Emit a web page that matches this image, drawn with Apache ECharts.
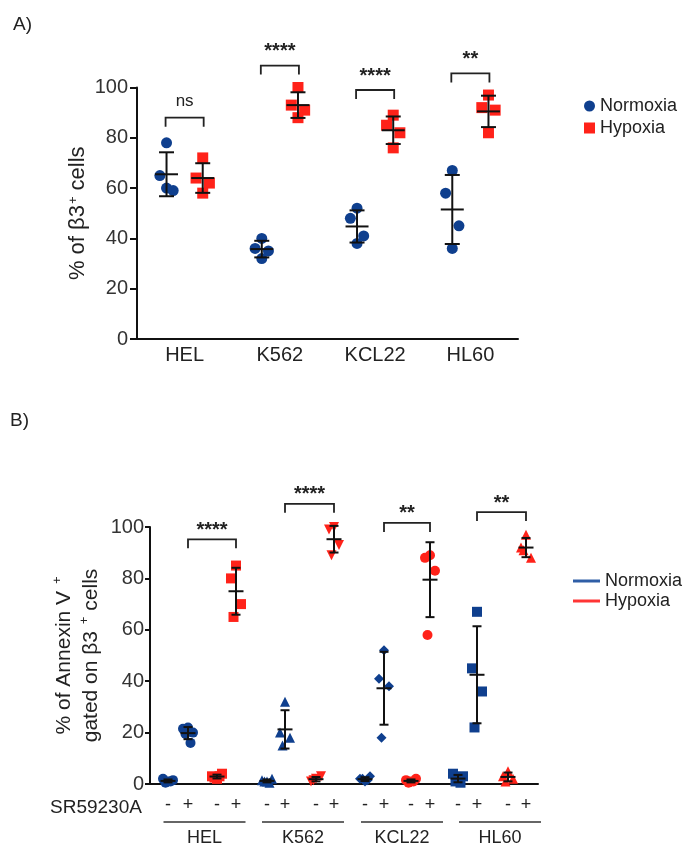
<!DOCTYPE html>
<html><head><meta charset="utf-8">
<script src="https://cdn.jsdelivr.net/npm/echarts@6/dist/echarts.min.js"></script>
<style>html,body{margin:0;padding:0;background:#fff}#c{width:691px;height:858px}</style>
</head><body><div id="c"></div>
<script>
// ---------- data ----------
const cellLines = ['HEL', 'K562', 'KCL22', 'HL60'];
// Panel A: % of beta3+ cells
const aNormoxia = [[78, 65, 59, 60], [40, 36, 35, 32], [52, 48, 41, 38], [67, 58, 45, 36]];
const aHypoxia  = [[72, 64, 62, 58], [100, 93, 91, 88], [89, 85, 82, 76], [97, 92, 91, 82]];
const aSigLabels  = ['ns', '****', '****', '**'];
const aSigHeights = [88, 108.7, 99, 105.6];
// Panel B: % Annexin V+ gated on beta3+ cells  (- / + SR59230A)
const bTickLabels = ['-', '+', '-', '+'];
const bNormoxiaMinus = [[1, 2, 1.5, 0.5, 1], [1, 1.5, 2, 1, 0.5], [1, 2, 3, 2, 1.5], [2, 4, 3, 1, 0.5]];
const bNormoxiaPlus  = [[22, 21.5, 20, 19.5, 16], [32, 20, 18, 15], [52, 41, 38, 18], [67, 45, 36, 22]];
const bHypoxiaMinus  = [[2, 3, 4, 2.5, 3], [2, 1, 3, 1.5], [1, 1.5, 2, 0.5, 1], [5, 3, 2, 1]];
const bHypoxiaPlus   = [[85, 80, 70, 65], [100, 99, 93, 89], [89, 88, 83, 58], [97, 92, 88, 91]];
const bSigLabels  = ['****', '****', '**', '**'];
const bSigHeights = [95.2, 109, 101.6, 105.8];
// slot positions along panel B's x axis (N-, N+, H-, H+ for each cell line)
const bSlots = [[1.8, 3.8, 6.7, 8.6], [11.7, 13.5, 16.6, 18.4], [21.5, 23.4, 26.1, 28.0], [30.8, 32.7, 35.8, 37.6]];
const bGroupCenters = [5.45, 15.3, 25.2, 35.0];

// ---------- styles ----------
const BLUE = '#0f3f8e', RED = '#ff2219', INK = '#222';
const FONT = '"Liberation Sans", Arial, Helvetica, sans-serif';
const jitA = [0, -0.07, 0.07, 0, -0.04, 0.04];
const jitB = [0, -0.5, 0.5, -0.25, 0.25];
const invTri = 'path://M0,0 L10,0 L5,9 Z';
const bSymN = ['circle', 'triangle', 'diamond', 'rect'];
const bSymH = ['rect', invTri, 'circle', 'triangle'];

const mean = a => a.reduce((s, v) => s + v, 0) / a.length;
const sd = a => { const m = mean(a); return Math.sqrt(a.reduce((s, v) => s + (v - m) * (v - m), 0) / (a.length - 1)); };

function errRender(capHalf, meanHalf) {
  return function (params, api) {
    const x = api.value(0), m = api.value(1), s = api.value(2);
    const pm = api.coord([x, m]), pt = api.coord([x, m + s]), pb = api.coord([x, m - s]);
    const st = { stroke: '#111', lineWidth: 2 };
    return { type: 'group', children: [
      { type: 'line', shape: { x1: pm[0], y1: pt[1], x2: pm[0], y2: pb[1] }, style: st },
      { type: 'line', shape: { x1: pm[0] - meanHalf, y1: pm[1], x2: pm[0] + meanHalf, y2: pm[1] }, style: st },
      { type: 'line', shape: { x1: pm[0] - capHalf, y1: pt[1], x2: pm[0] + capHalf, y2: pt[1] }, style: st },
      { type: 'line', shape: { x1: pm[0] - capHalf, y1: pb[1], x2: pm[0] + capHalf, y2: pb[1] }, style: st }
    ] };
  };
}
function bracketRender(labels, gapStars, gapText) {
  return function (params, api) {
    const p1 = api.coord([api.value(0), api.value(2)]);
    const p2 = api.coord([api.value(1), api.value(2)]);
    const lab = labels[params.dataIndex];
    const stars = lab.indexOf('*') >= 0;
    const drop = 9;
    return { type: 'group', children: [
      { type: 'polyline', shape: { points: [[p1[0], p1[1] + drop], [p1[0], p1[1]], [p2[0], p2[1]], [p2[0], p2[1] + drop]] },
        style: { stroke: '#222', lineWidth: 1.8, fill: null } },
      { type: 'text', style: { text: lab, x: (p1[0] + p2[0]) / 2, y: p1[1] - (stars ? gapStars : gapText),
        align: 'center', verticalAlign: 'middle', fill: '#222',
        font: (stars ? 'bold 20px ' : '17px ') + FONT } }
    ] };
  };
}

// ---------- series ----------
const series = [];
// Panel A scatter
series.push({ name: 'Normoxia', type: 'scatter', xAxisIndex: 1, yAxisIndex: 0, symbol: 'circle', symbolSize: 11,
  itemStyle: { color: BLUE, opacity: 1 }, z: 3,
  data: aNormoxia.flatMap((vals, i) => vals.map((v, j) => [i - 0.19 + jitA[j], v])) });
series.push({ name: 'Hypoxia', type: 'scatter', xAxisIndex: 1, yAxisIndex: 0, symbol: 'rect', symbolSize: 11,
  itemStyle: { color: RED, opacity: 1 }, z: 3,
  data: aHypoxia.flatMap((vals, i) => vals.map((v, j) => [i + 0.19 + jitA[j], v])) });
series.push({ type: 'custom', xAxisIndex: 1, yAxisIndex: 0, z: 5, clip: false, renderItem: errRender(7.5, 11.5),
  data: aNormoxia.map((v, i) => [i - 0.19, mean(v), sd(v)]).concat(aHypoxia.map((v, i) => [i + 0.19, mean(v), sd(v)])) });
series.push({ type: 'custom', xAxisIndex: 1, yAxisIndex: 0, z: 5, clip: false, renderItem: bracketRender(aSigLabels, 14, 16),
  data: aSigHeights.map((h, i) => [i - 0.2, i + 0.2, h]) });

// Panel B scatter
cellLines.forEach((cl, i) => {
  const s = bSlots[i];
  series.push({ name: 'Normoxia', type: 'scatter', xAxisIndex: 2, yAxisIndex: 1, symbol: bSymN[i], symbolSize: 10,
    itemStyle: { color: BLUE, opacity: 1 }, z: 3,
    data: bNormoxiaMinus[i].map((v, j) => [s[0] + jitB[j], v]).concat(bNormoxiaPlus[i].map((v, j) => [s[1] + jitB[j], v])) });
  series.push({ name: 'Hypoxia', type: 'scatter', xAxisIndex: 2, yAxisIndex: 1, symbol: bSymH[i], symbolSize: 10,
    itemStyle: { color: RED, opacity: 1 }, z: 3,
    data: bHypoxiaMinus[i].map((v, j) => [s[2] + jitB[j], v]).concat(bHypoxiaPlus[i].map((v, j) => [s[3] + jitB[j], v])) });
});
const bGroups = [bNormoxiaMinus, bNormoxiaPlus, bHypoxiaMinus, bHypoxiaPlus];
series.push({ type: 'custom', xAxisIndex: 2, yAxisIndex: 1, z: 5, clip: false, renderItem: errRender(4.5, 7.5),
  data: cellLines.flatMap((cl, i) => bGroups.map((g, k) => [bSlots[i][k], mean(g[i]), sd(g[i])])) });
series.push({ type: 'custom', xAxisIndex: 2, yAxisIndex: 1, z: 5, clip: false, renderItem: bracketRender(bSigLabels, 9, 12),
  data: bSigHeights.map((h, i) => [bSlots[i][1], bSlots[i][3], h]) });
// cell line group labels under panel B
series.push({ type: 'custom', xAxisIndex: 2, yAxisIndex: 1, z: 5, clip: false, silent: true,
  renderItem: function (params, api) {
    const p = api.coord([api.value(0), 0]);
    return { type: 'group', children: [
      { type: 'line', shape: { x1: p[0] - 41, y1: p[1] + 38, x2: p[0] + 41, y2: p[1] + 38 }, style: { stroke: '#333', lineWidth: 1.6 } },
      { type: 'text', style: { text: cellLines[params.dataIndex], x: p[0], y: p[1] + 54, align: 'center', verticalAlign: 'middle',
        fill: INK, font: '18px ' + FONT } }
    ] };
  },
  data: bGroupCenters.map(c => [c]) });

const axisLineStyle = { show: true, onZero: false, lineStyle: { color: '#111', width: 2 } };
const supRich = { sup: { fontSize: 13, verticalAlign: 'top', padding: [0, 0, 0, 1], fontFamily: FONT, color: INK } };

const option = {
  animation: false,
  backgroundColor: '#fff',
  textStyle: { fontFamily: FONT },
  grid: [
    { left: 137, top: 87.5, width: 381, height: 251.5 },
    { left: 150, top: 527, width: 388, height: 257 }
  ],
  xAxis: [
    { type: 'category', gridIndex: 0, data: cellLines, boundaryGap: true, axisLine: axisLineStyle,
      axisTick: { show: false }, axisLabel: { fontSize: 20, color: INK, margin: 6, fontFamily: FONT } },
    { type: 'value', gridIndex: 0, min: -0.5, max: 3.5, show: false },
    { type: 'value', gridIndex: 1, min: 0, max: 38.8, axisLine: axisLineStyle, splitLine: { show: false },
      axisTick: { show: false },
      axisLabel: { fontSize: 18, color: INK, margin: 12, fontFamily: FONT, customValues: bSlots.flat(),
        formatter: function (v) {
          const flat = bSlots.flat(); let best = 0;
          flat.forEach((s, k) => { if (Math.abs(s - v) < Math.abs(flat[best] - v)) best = k; });
          return bTickLabels[best % 4];
        } } }
  ],
  yAxis: [
    { type: 'value', gridIndex: 0, min: 0, max: 100, interval: 20, axisLine: axisLineStyle,
      axisTick: { show: true, length: 7, lineStyle: { color: '#111', width: 2 } }, splitLine: { show: false },
      axisLabel: { fontSize: 20, color: '#333', margin: 9, fontFamily: FONT },
      name: '% of β3{sup|+} cells', nameLocation: 'middle', nameRotate: 90, nameGap: 48, nameMoveOverlap: false,
      nameTextStyle: { fontSize: 22, color: INK, fontFamily: FONT, rich: supRich } },
    { type: 'value', gridIndex: 1, min: 0, max: 100, interval: 20, axisLine: axisLineStyle,
      axisTick: { show: true, length: 5, lineStyle: { color: '#111', width: 2 } }, splitLine: { show: false },
      axisLabel: { fontSize: 20, color: '#333', margin: 6, fontFamily: FONT },
      name: '% of Annexin V {sup|+}\ngated on β3 {sup|+} cells', nameLocation: 'middle', nameRotate: 90, nameGap: 45, nameMoveOverlap: false,
      nameTextStyle: { fontSize: 21, lineHeight: 27, color: INK, fontFamily: FONT, rich: supRich } }
  ],
  legend: [
    { orient: 'vertical', left: 579, top: 92, itemWidth: 11, itemHeight: 11, itemGap: 4, selectedMode: false,
      textStyle: { fontSize: 18, color: INK, fontFamily: FONT },
      data: [{ name: 'Normoxia', icon: 'circle', itemStyle: { color: BLUE } }, { name: 'Hypoxia', icon: 'rect', itemStyle: { color: RED } }] },
    { orient: 'vertical', left: 568, top: 567, itemWidth: 27, itemHeight: 3, itemGap: 2, selectedMode: false,
      textStyle: { fontSize: 18, color: INK, fontFamily: FONT },
      data: [{ name: 'Normoxia', icon: 'rect', itemStyle: { color: '#2f5ea6' } }, { name: 'Hypoxia', icon: 'rect', itemStyle: { color: '#ff3535' } }] }
  ],
  graphic: [
    { type: 'text', left: 13, top: 15, style: { text: 'A)', font: '19px ' + FONT, fill: INK } },
    { type: 'text', left: 10, top: 411, style: { text: 'B)', font: '19px ' + FONT, fill: INK } },
    { type: 'text', left: 50, top: 798, style: { text: 'SR59230A', font: '19px ' + FONT, fill: INK } }
  ],
  series: series
};
const chart = echarts.init(document.getElementById('c'), null, { renderer: 'canvas' });
chart.setOption(option);
</script>
</body></html>
